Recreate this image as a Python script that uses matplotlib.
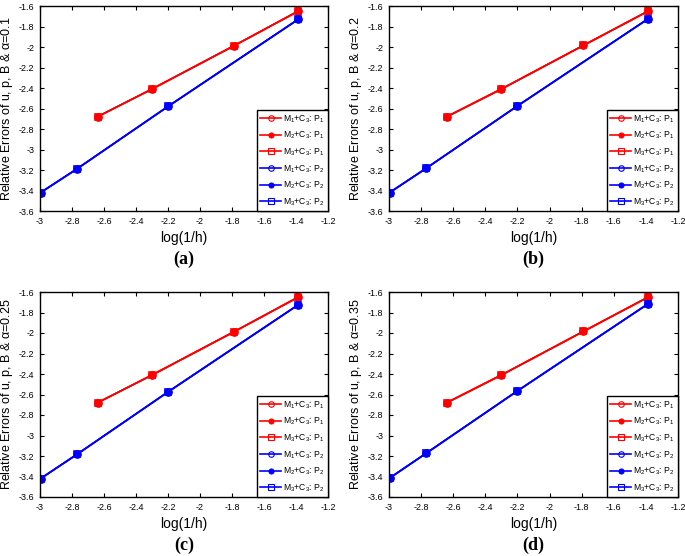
import numpy as np
import matplotlib
matplotlib.use("Agg")
import matplotlib.pyplot as plt
from matplotlib.ticker import FormatStrFormatter, MultipleLocator

plt.rcParams['font.family'] = ['Liberation Sans', 'DejaVu Sans']
plt.rcParams['axes.unicode_minus'] = False
plt.rcParams['mathtext.fontset'] = 'custom'
plt.rcParams['mathtext.rm'] = 'Liberation Sans'
plt.rcParams['mathtext.it'] = 'Liberation Sans'

# data: log(1/h) vs log(relative error)
x_p1 = [-2.64, -2.30, -1.79, -1.386]
x_p2 = [-2.996, -2.77, -2.20, -1.386]

alphas = ['0.1', '0.2', '0.25', '0.35']
captions = ['(a)', '(b)', '(c)', '(d)']
y_p1 = [
    [-2.68, -2.41, -1.99, -1.65],
    [-2.68, -2.41, -1.985, -1.65],
    [-2.68, -2.41, -1.99, -1.65],
    [-2.68, -2.41, -1.985, -1.65],
]
y_p2 = [
    [-3.42, -3.19, -2.58, -1.73],
    [-3.42, -3.185, -2.575, -1.725],
    [-3.42, -3.185, -2.575, -1.725],
    [-3.415, -3.175, -2.565, -1.715],
]

markers = [('o', 'none'), ('.', None), ('s', 'none')]
legend_labels = ['M$_{%d}$+C$_{3}$: P$_{%d}$' % (m, p) for p in (1, 2) for m in (1, 2, 3)]

W, H = 685, 556
fig = plt.figure(figsize=(W / 100, H / 100), dpi=100)

# axes positions in pixels: left, top, right, bottom
boxes = [(40, 6, 328, 211), (389, 6, 678, 211),
         (40, 292, 328, 497), (389, 292, 678, 497)]

for i, (l, t, r, b) in enumerate(boxes):
    ax = fig.add_axes([l / W, 1 - b / H, (r - l) / W, (b - t) / H])
    handles = []
    for xs, ys, col in [(x_p1, y_p1[i], 'red'), (x_p2, y_p2[i], 'blue')]:
        for mk, fc in markers:
            kw = dict(color=col, lw=1.2, marker=mk)
            if fc == 'none':
                kw.update(mfc='none', mec=col, ms=5, mew=1.2)
            else:
                kw.update(ms=9)
            h, = ax.plot(xs, ys, **kw)
            handles.append(h)
    ax.set_xlim(-3, -1.2)
    ax.set_ylim(-3.6, -1.6)
    ax.xaxis.set_major_locator(MultipleLocator(0.2))
    ax.yaxis.set_major_locator(MultipleLocator(0.2))
    ax.xaxis.set_major_formatter(FormatStrFormatter('%g'))
    ax.yaxis.set_major_formatter(FormatStrFormatter('%g'))
    ax.tick_params(direction='in', length=3, width=0.8, labelsize=6.5, top=True, right=True, pad=4)
    for s in ax.spines.values():
        s.set_linewidth(1.0)
    ax.set_xlabel('log(1/h)', fontsize=10, labelpad=4)
    ax.set_ylabel('Relative Errors of u, p, B & $\\alpha$=' + alphas[i], fontsize=9, labelpad=3)
    leg = ax.legend(handles, legend_labels, loc='lower right', bbox_to_anchor=(1, 0),
                    borderaxespad=0, fontsize=6.2, frameon=True, fancybox=False,
                    edgecolor='black', framealpha=1, handlelength=2.4, labelspacing=0.6,
                    borderpad=0.35, handletextpad=0.3, markerscale=0.8)
    leg.get_frame().set_linewidth(1.0)
    for lh in leg.legend_handles:
        lh.set_markeredgewidth(0.8)
    cx = (l + r) / 2 / W
    fig.text(cx, 1 - (b + 48) / H, captions[i], ha='center', va='center',
             fontsize=13, fontweight='bold', family='Liberation Serif')

fig.savefig('out.png', dpi=100)
